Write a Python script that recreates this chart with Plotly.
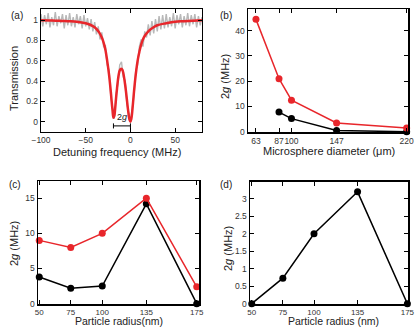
import plotly.graph_objects as go

# ---------------- data ----------------
# (a) transmission spectrum
det_grid = list(range(-100, 81, 2))
trans_meas = [1.06, 0.94, 1.05, 0.96, 1.07, 0.93, 1.03, 0.95, 1.08, 0.94, 1.04, 0.97, 1.06,
              0.92, 1.05, 0.95, 1.07, 0.94, 1.03, 0.93, 1.06, 0.96, 1.04, 0.92, 1.05, 0.94,
              1.02, 0.91, 1.01, 0.89, 0.98, 0.86, 0.94, 0.81, 0.88, 0.74,
              0.75, 0.56, 0.51, 0.26, 0.14,
              0.03, 0.28, 0.37, 0.56, 0.59,
              0.44, 0.41, 0.18, 0.10, 0.01,
              0.13, 0.26, 0.51, 0.56, 0.74,
              0.81, 0.74, 0.89, 0.83, 0.96, 0.85, 0.99, 0.87, 1.01, 0.89,
              1.04, 0.91, 1.05, 0.92, 1.06, 0.93, 1.03, 0.94, 1.07, 0.92, 1.05, 0.96, 1.06,
              0.93, 1.04, 0.95, 1.07, 0.94, 1.05, 0.96, 1.06, 0.93, 1.04, 0.95, 1.03]
fit_x = [-100, -90, -80, -70, -60, -50, -45, -40, -35, -32, -30, -28, -26, -24, -22, -21, -20,
         -19, -18, -17, -16, -15, -14, -13, -12, -11, -10, -9, -8, -7, -6, -5, -4, -3, -2, -1,
         0, 1, 2, 3, 4, 5, 6, 8, 10, 12, 15, 20, 25, 30, 40, 50, 60, 70, 80]
fit_y = [1.0, 0.998, 0.995, 0.99, 0.985, 0.97, 0.955, 0.93, 0.88, 0.83, 0.78, 0.71, 0.6, 0.47,
         0.3, 0.2, 0.11, 0.04, 0.06, 0.14, 0.24, 0.33, 0.41, 0.47, 0.505, 0.52, 0.52, 0.51, 0.48,
         0.43, 0.37, 0.3, 0.22, 0.14, 0.07, 0.02, 0.0, 0.03, 0.1, 0.2, 0.3, 0.39, 0.47, 0.6, 0.69,
         0.76, 0.83, 0.89, 0.925, 0.95, 0.97, 0.985, 0.99, 0.995, 1.0]
dip_left, dip_right = -19, 0

# (b) coupling vs microsphere diameter
diam_red = [63, 87, 100, 147, 220]
g_b_red = [44.5, 21, 12.5, 3.5, 1.5]
diam_black = [87, 100, 147, 220]
g_b_black = [7.8, 5.2, 0.5, 0.0]
diam_ticks = [63, 87, 100, 147, 220]

# (c) coupling vs particle radius
radius = [50, 75, 100, 135, 175]
g_c_red = [9, 8, 10, 15, 2.4]
g_c_black = [3.8, 2.2, 2.5, 14.2, 0]

# (d)
g_d = [0, 0.73, 2.0, 3.2, 0]

RED = "#e8262b"
GREY = "#b8b8b8"
FONT = "Liberation Sans, Arial, sans-serif"

fig = go.Figure()

# (a)
fig.add_trace(go.Scatter(x=det_grid, y=trans_meas, mode="lines",
                         line=dict(color=GREY, width=1.4), xaxis="x", yaxis="y"))
fig.add_trace(go.Scatter(x=fit_x, y=fit_y, mode="lines", line_shape="spline",
                         line=dict(color=RED, width=2.5), xaxis="x", yaxis="y"))
# 2g bracket
fig.add_trace(go.Scatter(x=[dip_left, dip_right], y=[-0.04, -0.04], mode="lines",
                         line=dict(color="black", width=1), xaxis="x", yaxis="y"))
for xv in (dip_left, dip_right):
    fig.add_trace(go.Scatter(x=[xv, xv], y=[-0.065, -0.015], mode="lines",
                             line=dict(color="black", width=1), xaxis="x", yaxis="y"))

# (b)
fig.add_trace(go.Scatter(x=diam_black, y=g_b_black, mode="lines+markers",
                         line=dict(color="black", width=1.5), marker=dict(color="black", size=7),
                         cliponaxis=False, xaxis="x2", yaxis="y2"))
fig.add_trace(go.Scatter(x=diam_red, y=g_b_red, mode="lines+markers",
                         line=dict(color=RED, width=1.5), marker=dict(color=RED, size=7),
                         cliponaxis=False, xaxis="x2", yaxis="y2"))

# (c)
fig.add_trace(go.Scatter(x=radius, y=g_c_black, mode="lines+markers",
                         line=dict(color="black", width=1.5), marker=dict(color="black", size=7),
                         cliponaxis=False, xaxis="x3", yaxis="y3"))
fig.add_trace(go.Scatter(x=radius, y=g_c_red, mode="lines+markers",
                         line=dict(color=RED, width=1.5), marker=dict(color=RED, size=7),
                         cliponaxis=False, xaxis="x3", yaxis="y3"))

# (d)
fig.add_trace(go.Scatter(x=radius, y=g_d, mode="lines+markers",
                         line=dict(color="black", width=1.5), marker=dict(color="black", size=7),
                         cliponaxis=False, xaxis="x4", yaxis="y4"))


def ax(domain, rng, tickvals, anchor, lw=1.5, ticktext=None, fs=8.5):
    d = dict(domain=domain, range=rng, tickvals=tickvals, anchor=anchor,
             showline=True, linecolor="black", linewidth=lw, mirror="allticks",
             ticks="inside", ticklen=4, tickwidth=1, tickcolor="black", tickangle=0,
             showgrid=False, zeroline=False, automargin=False,
             tickfont=dict(size=fs, color="#333", family=FONT))
    if ticktext is not None:
        d["ticktext"] = ticktext
    return d


W, H = 416, 328
fx = lambda p: p / W
fy = lambda p: 1 - p / H

fig.update_layout(
    width=W, height=H, autosize=False, margin=dict(l=0, r=0, t=0, b=0, pad=0),
    paper_bgcolor="white", plot_bgcolor="white", showlegend=False,
    font=dict(family=FONT, color="#222"),
    xaxis=ax([fx(41), fx(202)], [-100, 80], [-100, -50, 0, 50], "y", lw=1.2),
    yaxis=ax([fy(132), fy(9)], [-0.1, 1.11], [0, 0.2, 0.4, 0.6, 0.8, 1], "x", lw=1.2,
             ticktext=["0", "0.2", "0.4", "0.6", "0.8", "1"]),
    xaxis2=ax([fx(248), fx(408)], [54.7, 221.4], diam_ticks, "y2"),
    yaxis2=ax([fy(132), fy(9)], [-0.1, 48.6], [0, 10, 20, 30, 40], "x2"),
    xaxis3=ax([fx(38), fx(199)], [49, 176.8], radius, "y3", fs=8),
    yaxis3=ax([fy(304), fy(181)], [-0.05, 17.45], [0, 5, 10, 15], "x3"),
    xaxis4=ax([fx(250), fx(408)], [48.6, 175.5], radius, "y4", fs=8),
    yaxis4=ax([fy(304), fy(181.7)], [-0.01, 3.49], [0, 0.5, 1, 1.5, 2, 2.5, 3], "x4"),
)

ann = []
def txt(x, y, s, size=11, angle=0, yanchor="middle"):
    ann.append(dict(x=fx(x), y=fy(y), xref="paper", yref="paper", text=s, showarrow=False,
                    textangle=angle, font=dict(size=size, family=FONT, color="#222"),
                    xanchor="center", yanchor=yanchor, borderpad=0))

# panel letters
txt(17, 15, "(a)", 10)
txt(226, 15, "(b)", 10)
txt(15, 185, "(c)", 10)
txt(226, 184, "(d)", 10)
# x titles
txt(117, 152, "Detuning frequency (MHz)")
txt(329, 151, "Microsphere diameter (μm)")
txt(119, 328, "Particle radius(nm)", size=10.5, yanchor="bottom")
txt(333, 328, "Particle radius (nm)", size=10.5, yanchor="bottom")
# y titles
txt(14, 79, "Transmission", angle=-90)
txt(225, 77, "2<i>g</i> (MHz)", angle=-90)
txt(14, 244, "2<i>g</i> (MHz)", angle=-90)
txt(228, 249, "2<i>g</i> (MHz)", angle=-90)
fig.update_layout(annotations=ann)

# 2g label in data coords of (a)
fig.add_annotation(x=(dip_left + dip_right) / 2, y=0.045, xref="x", yref="y",
                   text="2<i>g</i>", showarrow=False,
                   font=dict(size=9, family=FONT, color="#222"))

fig.write_html("out.html",
               config={"displayModeBar": False, "staticPlot": True, "responsive": False},
               post_script="document.body.style.margin='0';document.body.style.overflow='hidden';")
